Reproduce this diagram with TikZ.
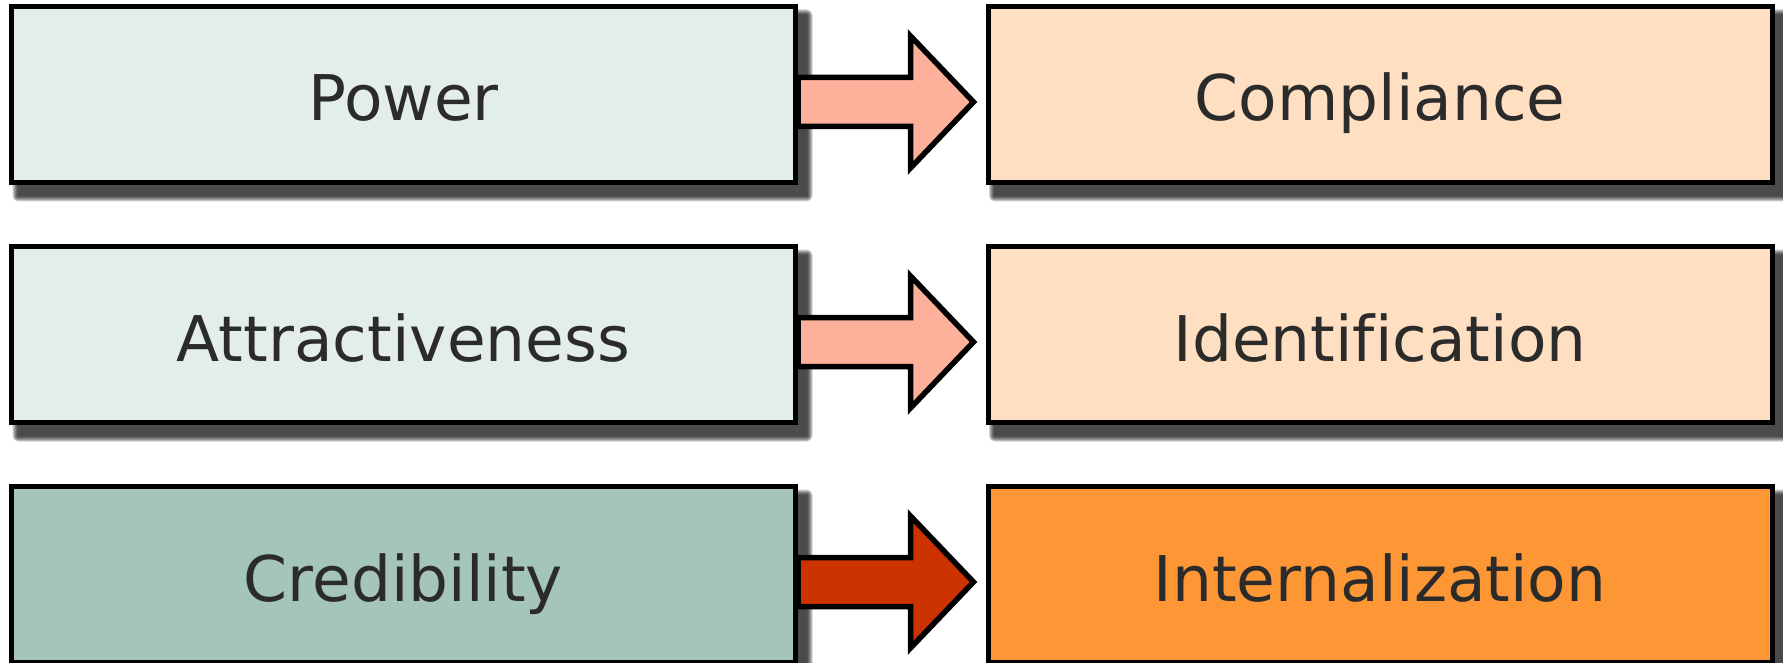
\documentclass[tikz,border=0pt]{standalone}
\usepackage{fontspec}
\setmainfont{DejaVu Sans}[Ligatures=NoCommon]
\usetikzlibrary{calc,backgrounds}
\definecolor{paleGreen}{HTML}{E3EDE9}
\definecolor{tealGreen}{HTML}{A5C5BB}
\definecolor{pealPeach}{HTML}{FEDFC1}
\definecolor{deepOrange}{HTML}{FD9735}
\definecolor{salmonArr}{HTML}{FEB19A}
\definecolor{rustArr}{HTML}{CC3300}
\definecolor{textGray}{HTML}{2B2B2B}
\newcommand{\blockarrowfrom}[2]{%
  \draw[barrow, fill=#2] ($(#1.east)+(0,-17)$) -- ++(112.5,0) -- ++(0,-41.5)
    -- ++(63,66) -- ++(-63,66) -- ++(0,-41.5) -- ++(-112.5,0) -- cycle;}
\newcommand{\softshadowof}[1]{%
  \foreach \s in {5.5,4.5,3.5,2.5,1.5,0.5}{%
    \fill[shadowlayer, rounded corners=\s pt]
      ($(#1.north west)+(9-\s,11-\s)$) rectangle ($(#1.south east)+(9+\s,11+\s)$);}}
\begin{document}
\begin{tikzpicture}[x=1pt,y=-1pt,
  box/.style={draw=black, line width=5pt, minimum width=784pt, minimum height=176pt,
    inner sep=0pt, font=\fontsize{63}{70}\selectfont, text=textGray,
    text height=57pt, text depth=4pt},
  shadowlayer/.style={black, opacity=0.185},
  barrow/.style={draw=black, line width=5.5pt, line join=miter}]
\useasboundingbox (0,0) rectangle (1783,663);
\node[box, fill=paleGreen] (pow) at (403.5,94.5) {Power};
\node[box, fill=pealPeach] (comp) at (1380,94.5) {Compliance};
\node[box, fill=paleGreen] (attr) at (403.5,334.5) {Attractiveness};
\node[box, fill=pealPeach] (iden) at (1380,334.5) {Identification};
\node[box, fill=tealGreen] (cred) at (403.5,574.5) {Credibility};
\node[box, fill=deepOrange] (intl) at (1380,574.5) {Internalization};
\begin{scope}[on background layer]
  \softshadowof{pow}\softshadowof{comp}
  \softshadowof{attr}\softshadowof{iden}
  \softshadowof{cred}\softshadowof{intl}
\end{scope}
\blockarrowfrom{pow}{salmonArr}
\blockarrowfrom{attr}{salmonArr}
\blockarrowfrom{cred}{rustArr}
\end{tikzpicture}
\end{document}
